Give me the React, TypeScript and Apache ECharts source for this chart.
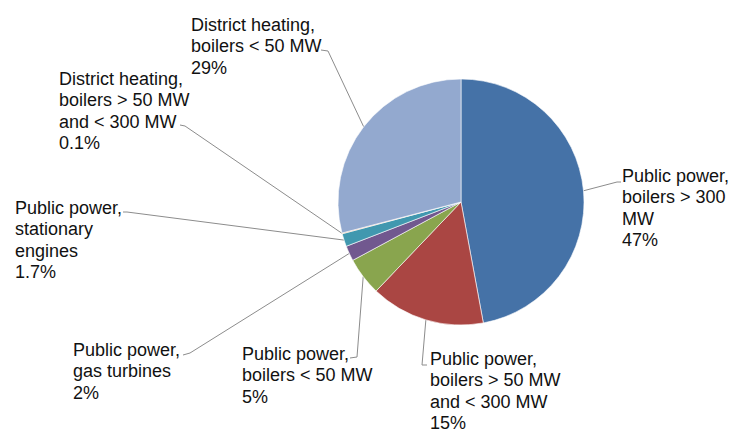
import React, { useEffect, useRef } from "react";
import * as echarts from "echarts";

const CATEGORIES = [
  "Public power,\nboilers > 300\nMW",
  "Public power,\nboilers > 50 MW\nand < 300 MW",
  "Public power,\nboilers < 50 MW",
  "Public power,\ngas turbines",
  "Public power,\nstationary\nengines",
  "District heating,\nboilers > 50 MW\nand < 300 MW",
  "District heating,\nboilers < 50 MW",
];
const VALUES = [47, 15, 5, 2, 1.7, 0.1, 29];
const COLORS = ["#4572A7", "#AA4643", "#89A54E", "#71588F", "#4198AF", "#DB843D", "#93A9CF"];

// label placement (layout only): top-left of text block, bend and end of leader line
const LABEL_LAYOUT = [
  { x: 622, y: 165, bend: [617, 182], end: [621, 182] },
  { x: 430, y: 348, bend: [422, 365], end: [427, 365] },
  { x: 242, y: 343, bend: [357, 357], end: [350, 358] },
  { x: 73, y: 339, bend: [190, 353], end: [183, 355] },
  { x: 15, y: 197, bend: [127, 212], end: [123, 212] },
  { x: 59, y: 68, bend: [185, 126], end: [180, 125] },
  { x: 191, y: 14, bend: [328, 51], end: [321, 50] },
];

export default function App() {
  const ref = useRef<HTMLDivElement>(null);
  useEffect(() => {
    if (!ref.current) return;
    const chart = echarts.init(ref.current, null, { renderer: "svg" });
    chart.setOption({
      animation: false,
      backgroundColor: "#ffffff",
      series: [
        {
          type: "pie",
          center: [461, 202],
          radius: [0, 123],
          startAngle: 90,
          clockwise: true,
          avoidLabelOverlap: false,
          data: CATEGORIES.map((name, i) => ({
            name,
            value: VALUES[i],
            itemStyle: { color: COLORS[i] },
          })),
          itemStyle: { borderColor: "#ffffff", borderWidth: 0.6 },
          label: {
            show: true,
            position: "outside",
            formatter: (p: any) => `${p.name}\n${p.value}%`,
            fontSize: 18,
            lineHeight: 21.5,
            fontFamily: "'Liberation Sans', Arial, sans-serif",
            color: "#111111",
            align: "left",
          },
          labelLine: {
            show: true,
            length: 10,
            length2: 5,
            lineStyle: { color: "#8c8c8c", width: 1 },
          },
          labelLayout: (params: any) => {
            const L = LABEL_LAYOUT[params.dataIndex];
            const pts = params.labelLinePoints;
            const anchor = pts && pts[0] ? pts[0] : L.bend;
            return {
              x: L.x,
              y: L.y,
              align: "left",
              verticalAlign: "top",
              labelLinePoints: [anchor, L.bend, L.end],
            };
          },
          emphasis: { disabled: true },
        },
      ],
    });
    return () => chart.dispose();
  }, []);
  return (
    <div
      ref={ref}
      style={{ position: "fixed", left: 0, top: 0, width: 731, height: 429 }}
    />
  );
}
